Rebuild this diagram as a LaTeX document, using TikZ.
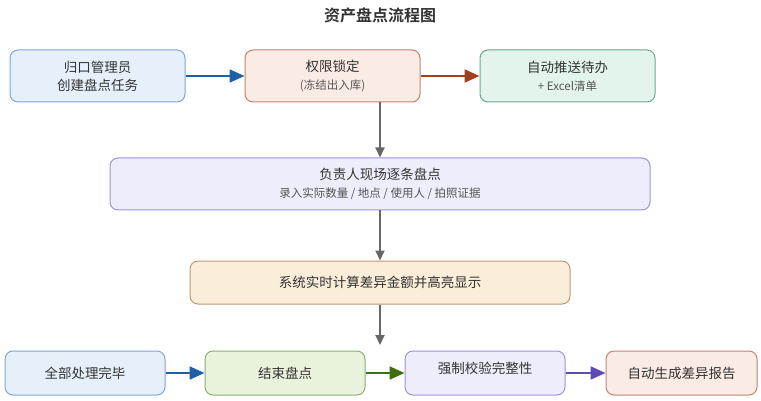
\documentclass[tikz,border=0pt]{standalone}
\usepackage{fontspec}
\setmainfont{Noto Sans CJK SC}[BoldFont={Noto Sans CJK SC Bold}]
\usetikzlibrary{arrows.meta}

\definecolor{bluefill}{HTML}{E6F0FA}
\definecolor{blueedge}{HTML}{7EA6D6}
\definecolor{bluearrow}{HTML}{1F5FA5}
\definecolor{redfill}{HTML}{FAEBE5}
\definecolor{rededge}{HTML}{C08470}
\definecolor{redarrow}{HTML}{A0401E}
\definecolor{greenfill}{HTML}{E2F4EC}
\definecolor{greenedge}{HTML}{6BA88A}
\definecolor{purplefill}{HTML}{EEEDFC}
\definecolor{purpleedge}{HTML}{9A94DC}
\definecolor{purplearrow}{HTML}{5A4BB8}
\definecolor{sandfill}{HTML}{FAEDD9}
\definecolor{sandedge}{HTML}{B89A74}
\definecolor{olivefill}{HTML}{E9F2DD}
\definecolor{oliveedge}{HTML}{8CB06A}
\definecolor{olivearrow}{HTML}{3D6E12}
\definecolor{textdark}{HTML}{333333}
\definecolor{subgray}{HTML}{555555}
\definecolor{flowgray}{HTML}{666666}

\tikzset{
  box/.style={draw, rounded corners=8pt, line width=1pt, align=center,
    text=textdark, inner sep=0pt, font=\fontsize{13.5}{18}\selectfont},
  wide/.style={minimum width=175pt, minimum height=52pt},
  low/.style={minimum width=160pt, minimum height=44pt},
  flow/.style={line width=2.2pt, -{Triangle[length=15pt,width=13pt]}},
  down/.style={line width=2pt, draw=flowgray, -{Triangle[length=10pt,width=9pt]}}
}
\newcommand{\sub}[1]{{\fontsize{11.5}{14}\selectfont\color{subgray}#1}}

\begin{document}
\begin{tikzpicture}[x=1pt, y=-1pt]
 \useasboundingbox (0,0) rectangle (761,401);

 %Title
 \node[font=\fontsize{16}{20}\selectfont\bfseries, text=textdark] (title) at (380,15) {资产盘点流程图};

 %Top row
 \node[box, wide, fill=bluefill, draw=blueedge] (creator) at (97.5,76) {归口管理员\\创建盘点任务};
 \node[box, wide, fill=redfill, draw=rededge] (lock) at (332.5,76) {权限锁定\\\sub{(冻结出入库)}};
 \node[box, wide, fill=greenfill, draw=greenedge] (push) at (567.5,76) {自动推送待办\\\sub{+ Excel清单}};

 %Middle
 \node[box, fill=purplefill, draw=purpleedge, minimum width=540pt, minimum height=52pt] (count) at (380,184)
   {负责人现场逐条盘点\\\sub{录入实际数量 / 地点 / 使用人 / 拍照证据}};
 \node[box, fill=sandfill, draw=sandedge, minimum width=380pt, minimum height=43pt] (calc) at (380,282.5)
   {系统实时计算差异金额并高亮显示};
 \coordinate (calcend) at (380,345);

 %Bottom row
 \node[box, low, fill=bluefill, draw=blueedge] (done) at (85,373) {全部处理完毕};
 \node[box, low, fill=olivefill, draw=oliveedge] (finish) at (285,373) {结束盘点};
 \node[box, low, fill=purplefill, draw=purpleedge] (check) at (485,373) {\raisebox{10pt}{强制校验完整性}};
 \node[box, fill=redfill, draw=rededge, minimum width=151pt, minimum height=44pt] (report) at (681.5,373) {自动生成差异报告};

 %Arrows
 \draw[flow, draw=bluearrow, fill=bluearrow] (creator) -- (lock);
 \draw[flow, draw=redarrow, fill=redarrow] (lock) -- (push);
 \draw[down, fill=flowgray] (count.north |- lock.south) -- (count.north);
 \draw[down, fill=flowgray] (count) -- (calc);
 \draw[down, fill=flowgray] (calc) -- (calcend);
 \draw[flow, draw=bluearrow, fill=bluearrow] (done) -- (finish);
 \draw[flow, draw=olivearrow, fill=olivearrow] (finish) -- (check);
 \draw[flow, draw=purplearrow, fill=purplearrow] (check) -- (report);

\end{tikzpicture}
\end{document}
